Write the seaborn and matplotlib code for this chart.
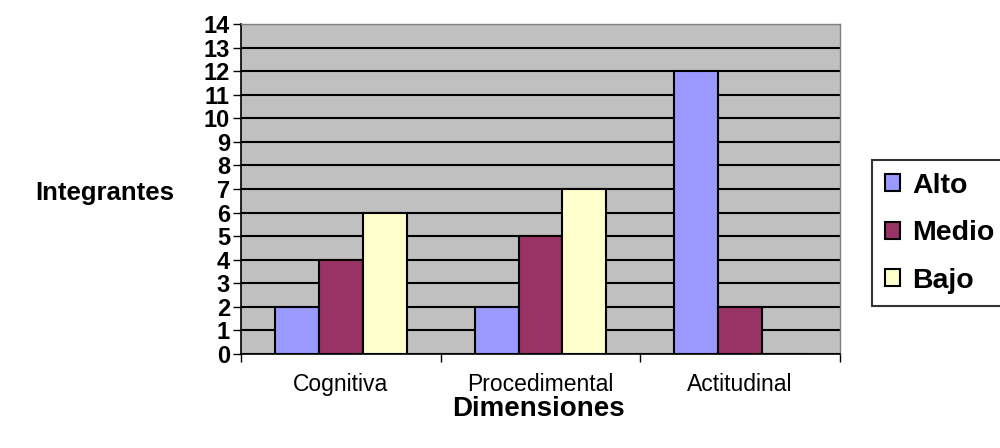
import matplotlib
matplotlib.use("Agg")
import matplotlib.pyplot as plt
import seaborn as sns
import pandas as pd

# data
dimensiones = ["Cognitiva", "Procedimental", "Actitudinal"]
niveles = ["Alto", "Medio", "Bajo"]
alto = [2, 2, 12]
medio = [4, 5, 2]
bajo = [6, 7, 0]
colores = ["#9999FF", "#993366", "#FFFFCC"]

rows = []
for i, d in enumerate(dimensiones):
    for nivel, vals in zip(niveles, [alto, medio, bajo]):
        rows.append({"Dimension": d, "Nivel": nivel, "Integrantes": vals[i]})
df = pd.DataFrame(rows)

sns.set_style("white")
plt.rcParams["font.family"] = ["Liberation Sans", "DejaVu Sans"]
plt.rcParams["text.color"] = "black"
plt.rcParams["xtick.color"] = "black"
plt.rcParams["ytick.color"] = "black"
plt.rcParams["axes.labelcolor"] = "black"

fig = plt.figure(figsize=(10, 4.48), dpi=100)
ax = fig.add_axes([0.241, 0.2098, 0.599, 0.7366])
ax.set_facecolor("#C0C0C0")

sns.barplot(data=df, x="Dimension", y="Integrantes", hue="Nivel",
            hue_order=niveles, order=dimensiones, palette=colores,
            edgecolor="black", linewidth=1.5, width=0.66, gap=0,
            saturation=1, ax=ax, zorder=3)

ax.set_xlim(-0.5, 2.5)
ax.set_ylim(0, 14)
ax.set_yticks(range(0, 15))
ax.yaxis.grid(True, color="black", linewidth=1.5, zorder=0)
ax.set_axisbelow(True)

# tick marks at category boundaries, labels at centers
ax.set_xticks([-0.5, 0.5, 1.5, 2.5], minor=True)
ax.tick_params(axis="x", which="major", length=0, pad=14, labelsize=16.5)
ax.tick_params(axis="x", which="minor", length=6, width=1, direction="out",
               color="black", bottom=True)
ax.tick_params(axis="y", length=6, width=1, direction="out", color="black",
               left=True, pad=2)
for lab in ax.get_yticklabels():
    lab.set_fontsize(17)
    lab.set_fontweight("bold")

for side in ["left", "bottom"]:
    ax.spines[side].set_color("black")
    ax.spines[side].set_linewidth(1.2)
for side in ["top", "right"]:
    ax.spines[side].set_color("#808080")
    ax.spines[side].set_linewidth(1)

ax.set_xlabel("")
ax.set_ylabel("")
fig.text(0.105, 0.57, "Integrantes", ha="center", va="center",
         fontsize=18.5, fontweight="bold")
fig.text(0.538, 0.088, "Dimensiones", ha="center", va="center",
         fontsize=20, fontweight="bold")

handles, labels = ax.get_legend_handles_labels()
ax.get_legend().remove()
leg = fig.legend(handles, labels, loc="upper left",
                 bbox_to_anchor=(0.872, 1 - 160 / 448),
                 prop={"size": 20.5, "weight": "bold"},
                 frameon=True, fancybox=False, handlelength=0.55,
                 handleheight=0.55, handletextpad=0.4, labelspacing=0.75,
                 borderpad=0.45, borderaxespad=0)
leg.get_frame().set_edgecolor("black")
leg.get_frame().set_linewidth(1.5)

fig.savefig("out.png", dpi=100, facecolor="white")
